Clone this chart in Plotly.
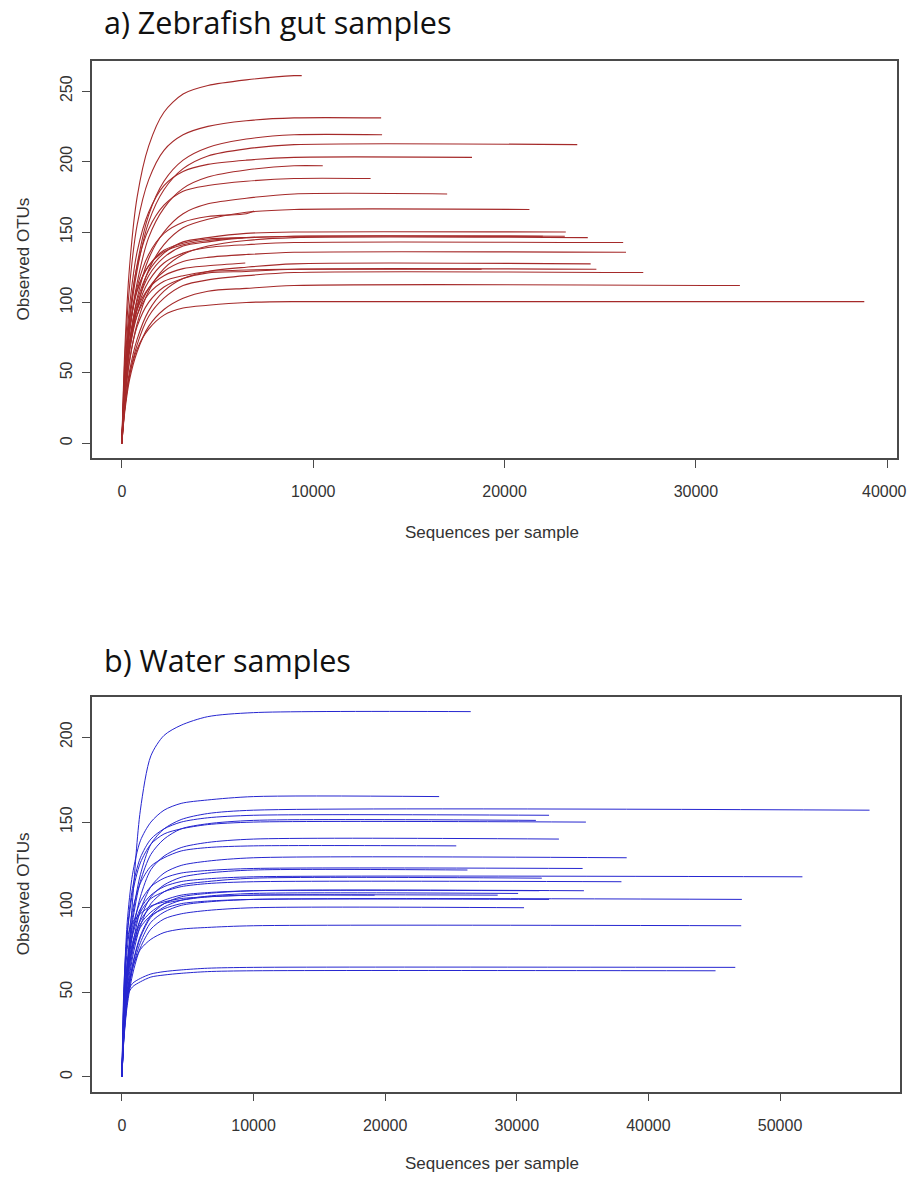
import plotly.graph_objects as go

# ---------------- data: a) Zebrafish gut samples ----------------
gut_depths = [0, 150, 400, 800, 1400, 2200, 3200, 4500, 6500, 9000]
gut_otus = [
    [0, 65, 125, 175, 211, 235, 248, 254, 258, 261],
    [0, 58, 111, 155, 187, 208, 219, 225, 229, 231],
    [0, 44, 88, 127, 162, 186, 201, 210, 216, 219],
    [0, 42, 85, 123, 157, 180, 195, 204, 209, 212],
    [0, 51, 97, 136, 164, 183, 193, 198, 201, 203],
    [0, 39, 79, 114, 146, 167, 181, 189, 194, 197],
    [0, 47, 90, 126, 152, 169, 179, 183, 186, 188],
    [0, 35, 71, 103, 131, 150, 163, 170, 174, 177],
    [0, 33, 66, 96, 123, 141, 153, 159, 164, 166],
    [0, 41, 79, 111, 134, 149, 157, 161, 163],
    [0, 38, 72, 101, 122, 135, 143, 146, 149, 150],
    [0, 44, 81, 109, 126, 137, 142, 145, 146, 147],
    [0, 37, 71, 98, 119, 132, 140, 143, 146, 147],
    [0, 29, 58, 85, 108, 124, 134, 140, 144, 146],
    [0, 44, 80, 108, 126, 136, 141, 144],
    [0, 36, 68, 95, 115, 128, 135, 139, 141, 142.5],
    [0, 34, 65, 91, 110, 122, 129, 132, 134, 135.6],
    [0, 38, 70, 95, 110, 119, 124, 126],
    [0, 25, 51, 74, 94, 108, 117, 122, 125, 127.4],
    [0, 31, 59, 83, 100, 111, 117, 121, 122, 123.6],
    [0, 37, 68, 91, 106, 115, 119, 122, 123, 123.6],
    [0, 24, 48, 70, 90, 103, 112, 116, 119, 121.2],
    [0, 22, 45, 65, 83, 95, 103, 108, 110, 112],
    [0, 25, 48, 67, 81, 91, 96, 98, 100, 100.6],
]
gut_max_depth = [9400, 13550, 13600, 23800, 18300, 10500, 13000, 17000, 21300,
                 6900, 23200, 22000, 23150, 24350, 6350, 26200, 26350, 6450,
                 24500, 24800, 18800, 27250, 32300, 38800]
gut_final_otu = [261, 231, 219, 212, 203, 197, 188, 177, 166,
                 165, 150, 147, 147, 146, 146, 142.5, 135.6, 128,
                 127.4, 123.6, 123.6, 121.2, 112, 100.6]

# ---------------- data: b) Water samples ----------------
water_depths = [0, 150, 400, 800, 1400, 2200, 3200, 4500, 6500, 10000]
water_otus = [
    [0, 26, 60, 103, 157, 189, 201, 207, 212, 214.4],
    [0, 50, 91, 119, 139, 150, 157, 161, 163, 165],
    [0, 35, 66, 94, 119, 137, 146, 151.5, 155, 157],
    [0, 46, 85, 111, 129, 140, 146, 150, 152.5, 154],
    [0, 33, 63, 91, 115, 131, 140, 146, 149, 151],
    [0, 45, 83, 108, 126, 137, 143, 146, 148.5, 150],
    [0, 31, 59, 84, 106, 122, 130, 135, 138, 140],
    [0, 41, 75, 98, 114, 124, 129, 133, 135, 136],
    [0, 28, 54, 77, 98, 112, 120, 124.5, 127, 129],
    [0, 37, 67, 88, 103, 112, 117, 120, 121.5, 122.7],
    [0, 27, 51, 73, 93, 106, 113, 117.5, 120, 121.8],
    [0, 35, 65, 85, 99, 107, 112, 115, 116.6, 117.8],
    [0, 26, 49, 70, 89, 102, 109, 113, 115, 117],
    [0, 34, 63, 83, 97, 105, 109, 112, 113.8, 114.9],
    [0, 24, 46, 66, 83, 95, 102, 106, 108, 109.6],
    [0, 33, 60, 79, 92, 100, 104, 107, 108.5, 109.6],
    [0, 24, 45, 65, 82, 94, 100, 104, 106.4, 108],
    [0, 32, 59, 77, 90, 97, 102, 104, 106, 107],
    [0, 53, 81, 91, 96, 100.6, 103, 105, 106, 107],
    [0, 23, 44, 63, 79, 91, 97, 101, 103, 104.5],
    [0, 31, 57, 75, 88, 95, 99, 102, 103.5, 104.5],
    [0, 22, 42, 60, 76, 87, 93, 96, 98, 99.6],
    [0, 27, 49, 64, 75, 81, 85, 87, 88, 89],
    [0, 32, 49, 55, 58, 60.6, 62, 63, 64, 64.5],
    [0, 31, 47.5, 53, 56, 58.8, 60, 61, 62, 62.5],
]
water_max_depth = [26500, 24100, 56800, 32450, 31450, 35250, 33200, 25400, 38350,
                   35000, 26250, 51700, 31900, 37950, 35100, 31700, 30100, 19200,
                   28550, 47100, 32450, 30550, 47050, 46600, 45100]
water_final_otu = [215, 165, 157, 154, 151, 150, 140, 136, 129,
                   122.7, 121.8, 117.8, 117, 114.9, 109.6, 109.6, 108, 107,
                   107, 104.5, 104.5, 99.6, 89, 64.5, 62.5]

gut_xticks = [0, 10000, 20000, 30000, 40000]
gut_xlabels = ["0", "10000", "20000", "30000", "40000"]
gut_yticks = [0, 50, 100, 150, 200, 250]
water_xticks = [0, 10000, 20000, 30000, 40000, 50000]
water_xlabels = ["0", "10000", "20000", "30000", "40000", "50000"]
water_yticks = [0, 50, 100, 150, 200]

GUT_COLOR = "#a52a2a"
WATER_COLOR = "#2626d0"

fig = go.Figure()

for vals, dmax, fin in zip(gut_otus, gut_max_depth, gut_final_otu):
    xs = gut_depths[:len(vals)] + [dmax]
    ys = list(vals) + [fin]
    fig.add_trace(go.Scatter(x=xs, y=ys, mode="lines", xaxis="x", yaxis="y",
                             line=dict(color=GUT_COLOR, width=1.1, shape="spline", smoothing=0.8),
                             showlegend=False, hoverinfo="skip"))

for vals, dmax, fin in zip(water_otus, water_max_depth, water_final_otu):
    xs = water_depths[:len(vals)] + [dmax]
    ys = list(vals) + [fin]
    fig.add_trace(go.Scatter(x=xs, y=ys, mode="lines", xaxis="x2", yaxis="y2",
                             line=dict(color=WATER_COLOR, width=1.0, shape="spline", smoothing=0.8),
                             showlegend=False, hoverinfo="skip"))

W, H = 909, 1180


def px_x(p):
    return p / W


def px_y(p):
    return 1 - p / H


tick_font = dict(family="Liberation Sans, Arial, sans-serif", size=16, color="#333333")
axis_common = dict(showgrid=False, zeroline=False, showline=True, mirror=True,
                   linecolor="#4a4a4a", linewidth=1.5, ticks="outside", ticklen=8,
                   tickcolor="#4a4a4a", tickwidth=1.2, tickfont=tick_font)

fig.update_layout(
    width=W, height=H, margin=dict(l=0, r=0, t=0, b=0),
    paper_bgcolor="white", plot_bgcolor="white",
    xaxis=dict(domain=[px_x(92), px_x(897)], range=[-1560, 40510], tickvals=gut_xticks,
               ticktext=gut_xlabels, anchor="y", ticklabelstandoff=10, **axis_common),
    yaxis=dict(domain=[px_y(458), px_y(61)], range=[-10.44, 271.4], tickvals=gut_yticks,
               ticktext=[str(v) for v in gut_yticks],
               anchor="x", tickangle=-90, ticklabelstandoff=4, **axis_common),
    xaxis2=dict(domain=[px_x(92), px_x(900)], range=[-2274, 59114], tickvals=water_xticks,
                ticktext=water_xlabels, anchor="y2", ticklabelstandoff=10, **axis_common),
    yaxis2=dict(domain=[px_y(1091.6), px_y(697)], range=[-8.6, 223.6], tickvals=water_yticks,
                ticktext=[str(v) for v in water_yticks],
                anchor="x2", tickangle=-90, ticklabelstandoff=4, **axis_common),
)

title_font = dict(family="Open Sans, Noto Sans, sans-serif", size=30.5, color="#111111")
label_font = dict(family="Liberation Sans, Arial, sans-serif", size=17, color="#333333")
ann = [
    dict(text="a) Zebrafish gut samples", x=px_x(102), y=px_y(22), xanchor="left", yanchor="middle",
         font=title_font),
    dict(text="b) Water samples", x=px_x(102), y=px_y(660), xanchor="left", yanchor="middle",
         font=title_font),
    dict(text="Sequences per sample", x=px_x(492), y=px_y(532), xanchor="center", yanchor="middle",
         font=label_font),
    dict(text="Sequences per sample", x=px_x(492), y=px_y(1163), xanchor="center", yanchor="middle",
         font=label_font),
    dict(text="Observed OTUs", x=px_x(23), y=px_y(259.5), xanchor="center", yanchor="middle",
         textangle=-90, font=label_font),
    dict(text="Observed OTUs", x=px_x(23), y=px_y(894.3), xanchor="center", yanchor="middle",
         textangle=-90, font=label_font),
    # last tick label of panel a sits against the page edge; drawn right-anchored so it stays inside
    dict(text=gut_xlabels[-1], x=1.0, y=px_y(491), xanchor="right", yanchor="middle",
         font=tick_font),
]
for a in ann:
    a.update(xref="paper", yref="paper", showarrow=False)
fig.update_layout(annotations=ann)

fig.write_html("out.html", config={"displayModeBar": False},
               post_script="document.body.style.margin='0px';")
